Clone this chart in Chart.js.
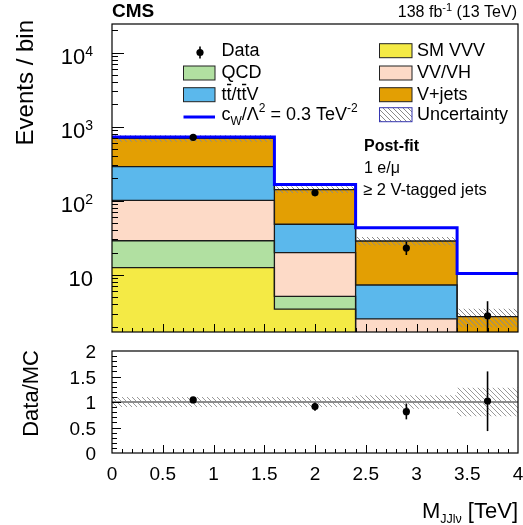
<!DOCTYPE html>
<html><head><meta charset="utf-8">
<script src="https://cdn.jsdelivr.net/npm/chart.js@4.4.1/dist/chart.umd.min.js"></script>
<style>
html,body{margin:0;padding:0;background:#fff;}
#wrap{position:relative;width:523px;height:525px;}
canvas{position:absolute;left:0;top:0;}
</style></head><body>
<div id="wrap"><canvas id="main" width="523" height="525"></canvas><canvas id="ratio" width="523" height="525"></canvas></div>
<script>
// ---------------- data ----------------
const binEdges   = [0, 1.6, 2.4, 3.4, 4.0];
const binCenters = [0.8, 2.0, 2.9, 3.7];
const smVVV  = [12.5, 3.45, 0.6, 0.3];
const qcd    = [16.3, 1.68, 0.2, 0.05];
const vvVH   = [72, 14.8, 1.74, 0.4];
const ttV    = [187, 28.2, 4.74, 0.6];
const vJets  = [407, 93, 21.3, 1.37];
const eftSignal = [724, 166, 43.2, 10.4];
const dataVals = [717, 128, 23.0, 2.8];
const dataLo   = [690, 117, 18.5, 1.2];
const dataHi   = [744, 139, 28.0, 4.4];
const relUnc   = [0.10, 0.10, 0.13, 0.28];
const ratioVals = [1.04, 0.91, 0.81, 1.02];
const ratioLo   = [1.00, 0.83, 0.66, 0.43];
const ratioHi   = [1.08, 0.99, 0.97, 1.60];
const yTickExponents = [1, 2, 3, 4];
const ratioTickLabels = ['0', '0.5', '1', '1.5', '2'];
const xTickLabels = ['0', '0.5', '1', '1.5', '2', '2.5', '3', '3.5', '4'];
const Y_MIN = 1.69, Y_MAX = 24300;
const R_MIN = 0, R_MAX = 2;
const X_MIN = 0, X_MAX = 4;

// ---------------- helpers ----------------
const FONT = '"Liberation Sans", Arial, Helvetica, sans-serif';
function histPoints(vals){ return binEdges.map((x,i)=>({x:x, y: vals[Math.min(i, vals.length-1)]})); }
function makeHatch(ctx, color, size){
  const c=document.createElement('canvas'); c.width=size; c.height=size;
  const g=c.getContext('2d'); g.strokeStyle=color; g.lineWidth=1;
  g.beginPath(); g.moveTo(0,0); g.lineTo(size,size);
  g.moveTo(-2,size-2); g.lineTo(2,size+2); g.moveTo(size-2,-2); g.lineTo(size+2,2); g.stroke();
  return ctx.createPattern(c,'repeat');
}
const stackColors = ['#f4ea45','#b1e0a1','#fddac7','#5bb8ec','#e39f03'];
const stackComps  = [smVVV, qcd, vvVH, ttV, vJets];

const mainCanvas = document.getElementById('main');
const ratioCanvas = document.getElementById('ratio');
const hatchMain = makeHatch(mainCanvas.getContext('2d'), '#8a8a8a', 5);
const hatchRatio = makeHatch(ratioCanvas.getContext('2d'), '#9a9a9a', 5);

// ---------------- main datasets ----------------
const mainDs = [];
let running = [0,0,0,0];
stackComps.forEach((arr,k)=>{
  running = running.map((v,i)=>v+arr[i]);
  mainDs.push({data: histPoints(running.slice()), stepped:true, fill: k===0?'start':'-1',
    backgroundColor: stackColors[k], borderColor:'#1a1a1a', borderWidth:1.3, pointRadius:0, order: 30-k});
});
const stackTotal = running.slice();
mainDs.push({data: histPoints(stackTotal.map((v,i)=>v*(1-relUnc[i]))), stepped:true, fill:false,
  borderWidth:0, borderColor:'rgba(0,0,0,0)', pointRadius:0, order:22});
mainDs.push({data: histPoints(stackTotal.map((v,i)=>v*(1+relUnc[i]))), stepped:true, fill:'-1',
  backgroundColor: hatchMain, borderWidth:0, borderColor:'rgba(0,0,0,0)', pointRadius:0, order:21});
mainDs.push({data: histPoints(eftSignal), stepped:true, fill:false, borderColor:'#0000ff', borderWidth:3, pointRadius:0, order:10});
binCenters.forEach((x,i)=>{
  mainDs.push({data:[{x:x,y:dataLo[i]},{x:x,y:dataHi[i]}], fill:false, borderColor:'#000', borderWidth:1.6, pointRadius:0, order:5});
});
mainDs.push({data: binCenters.map((x,i)=>({x:x,y:dataVals[i]})), showLine:false, pointRadius:3.6,
  pointBackgroundColor:'#000', pointBorderWidth:0, order:1});

// ---------------- ratio datasets ----------------
const ratioDs = [];
ratioDs.push({data: histPoints(relUnc.map(e=>1-e)), stepped:true, fill:false, borderWidth:0, borderColor:'rgba(0,0,0,0)', pointRadius:0, order:22});
ratioDs.push({data: histPoints(relUnc.map(e=>1+e)), stepped:true, fill:'-1', backgroundColor:hatchRatio, borderWidth:0, borderColor:'rgba(0,0,0,0)', pointRadius:0, order:21});
ratioDs.push({data:[{x:binEdges[0],y:1},{x:binEdges[binEdges.length-1],y:1}], fill:false, borderColor:'#8c8c8c', borderWidth:2, pointRadius:0, order:15});
binCenters.forEach((x,i)=>{
  ratioDs.push({data:[{x:x,y:ratioLo[i]},{x:x,y:ratioHi[i]}], fill:false, borderColor:'#000', borderWidth:1.6, pointRadius:0, order:5});
});
ratioDs.push({data: binCenters.map((x,i)=>({x:x,y:ratioVals[i]})), showLine:false, pointRadius:3.6,
  pointBackgroundColor:'#000', pointBorderWidth:0, order:1});

// ---------------- decorations ----------------
function drawFrame(ctx,a){ ctx.strokeStyle='#000'; ctx.lineWidth=1.2; ctx.strokeRect(a.left, a.top, a.right-a.left, a.bottom-a.top); }
function drawXTicks(ctx,a,xs){
  ctx.beginPath();
  for(let i=1;i<40;i++){ const x=Math.round(xs.getPixelForValue(i/10))+0.5; const len=i%5===0?8:4;
    ctx.moveTo(x,a.bottom); ctx.lineTo(x,a.bottom-len); }
  ctx.strokeStyle='#000'; ctx.lineWidth=1; ctx.stroke();
}
function drawPieces(ctx, x, y, pieces){ // pieces: [text, size, dy, bold]
  let cx=x;
  pieces.forEach(p=>{ ctx.font=(p[3]?'bold ':'')+p[1]+'px '+FONT; ctx.fillText(p[0], cx, y+p[2]); cx+=ctx.measureText(p[0]).width; });
  return cx;
}
function piecesWidth(ctx,pieces){ let w=0; pieces.forEach(p=>{ctx.font=(p[3]?'bold ':'')+p[1]+'px '+FONT; w+=ctx.measureText(p[0]).width;}); return w; }

const mainDecor = {id:'mainDecor', afterDraw(chart){
  const ctx=chart.ctx, a=chart.chartArea, xs=chart.scales.x, ys=chart.scales.y;
  ctx.save();
  // y ticks
  ctx.beginPath();
  for(let e=0;e<=4;e++) for(let m=1;m<=9;m++){ const v=m*Math.pow(10,e); if(v<Y_MIN||v>Y_MAX) continue;
    const y=Math.round(ys.getPixelForValue(v))+0.5; ctx.moveTo(a.left,y); ctx.lineTo(a.left+(m===1?12:6),y); }
  ctx.strokeStyle='#000'; ctx.lineWidth=1; ctx.stroke();
  drawXTicks(ctx,a,xs);
  drawFrame(ctx,a);
  ctx.fillStyle='#000'; ctx.textBaseline='alphabetic';
  // y tick labels
  yTickExponents.forEach(e=>{
    const y=ys.getPixelForValue(Math.pow(10,e));
    ctx.textAlign='right';
    if(e===1){ ctx.font='22px '+FONT; ctx.fillText('10', 93, y+11); }
    else { ctx.font='14px '+FONT; ctx.fillText(String(e), 93, y+3); const w=ctx.measureText(String(e)).width;
      ctx.font='22px '+FONT; ctx.fillText('10', 93-w, y+11); }
  });
  // y title
  ctx.save(); ctx.translate(33,20); ctx.rotate(-Math.PI/2); ctx.textAlign='right'; ctx.font='24px '+FONT; ctx.fillText('Events / bin',0,0); ctx.restore();
  ctx.textAlign='left';
  // CMS + lumi
  ctx.font='bold 19px '+FONT; ctx.fillText('CMS', 112, 17);
  const lumi=[['138 fb',16,0],['-1',11,-6],[' (13 TeV)',16,0]];
  drawPieces(ctx, 517-piecesWidth(ctx,lumi), 17, lumi);
  // legend
  const rows=[56,78.3,100,120];
  const lx0=183.5, lx1=215, rx0=379.5, rx1=412, ltx=221.5, rtx=417;
  function box(x0,x1,base,fill,stroke){ ctx.fillStyle=fill; ctx.fillRect(x0,base-12.3,x1-x0,14); ctx.strokeStyle=stroke||'#222'; ctx.lineWidth=1; ctx.strokeRect(x0,base-12.3,x1-x0,14); ctx.fillStyle='#000'; }
  // Data marker
  ctx.beginPath(); ctx.moveTo(200,46.5); ctx.lineTo(200,58.5); ctx.strokeStyle='#000'; ctx.lineWidth=1.6; ctx.stroke();
  ctx.beginPath(); ctx.arc(200,52.5,3.6,0,2*Math.PI); ctx.fillStyle='#000'; ctx.fill();
  ctx.font='18px '+FONT; ctx.fillText('Data', ltx, rows[0]);
  box(lx0,lx1,rows[1],stackColors[1]); ctx.font='18px '+FONT; ctx.fillText('QCD', ltx, rows[1]);
  box(lx0,lx1,rows[2],stackColors[3]);
  ctx.font='18px '+FONT;
  { const wt=ctx.measureText('t').width; let x=ltx; const b=rows[2];
    ctx.fillText('t',x,b); x+=wt; ctx.fillText('t',x,b);
    ctx.beginPath(); ctx.moveTo(x+0.5,b-15.5); ctx.lineTo(x+wt-0.3,b-15.5); x+=wt;
    ctx.fillText('/',x,b); x+=ctx.measureText('/').width;
    ctx.fillText('t',x,b); x+=wt; ctx.fillText('t',x,b);
    ctx.moveTo(x+0.5,b-15.5); ctx.lineTo(x+wt-0.3,b-15.5); x+=wt;
    ctx.strokeStyle='#000'; ctx.lineWidth=1.3; ctx.stroke();
    ctx.fillText('V',x,b); }
  ctx.beginPath(); ctx.moveTo(lx0,rows[3]-3); ctx.lineTo(lx1,rows[3]-3); ctx.strokeStyle='#0000ff'; ctx.lineWidth=3; ctx.stroke();
  drawPieces(ctx, ltx, rows[3], [['c',18,0],['W',12,5],['/\u039B',18,0],['2',12,-8],[' = 0.3 TeV',18,0],['-2',12,-8]]);
  box(rx0,rx1,rows[0],stackColors[0]); ctx.font='18px '+FONT; ctx.fillText('SM VVV', rtx, rows[0]);
  box(rx0,rx1,rows[1],stackColors[2]); ctx.font='18px '+FONT; ctx.fillText('VV/VH', rtx, rows[1]);
  box(rx0,rx1,rows[2],stackColors[4]); ctx.font='18px '+FONT; ctx.fillText('V+jets', rtx, rows[2]);
  ctx.fillStyle='#fff'; ctx.fillRect(rx0,rows[3]-12.3,rx1-rx0,14);
  box(rx0,rx1,rows[3],hatchMain,'#3636b0'); ctx.font='18px '+FONT; ctx.fillText('Uncertainty', rtx, rows[3]);
  // annotation
  ctx.font='bold 16px '+FONT; ctx.fillText('Post-fit', 364, 151);
  ctx.font='16px '+FONT; ctx.fillText('1 e/\u03BC', 364, 172.5);
  ctx.font='16.5px '+FONT; ctx.fillText('\u2265 2 V-tagged jets', 363, 194.5);
  ctx.restore();
}};

const ratioDecor = {id:'ratioDecor', afterDraw(chart){
  const ctx=chart.ctx, a=chart.chartArea, xs=chart.scales.x, ys=chart.scales.y;
  ctx.save();
  ctx.beginPath();
  for(let i=1;i<20;i++){ const y=Math.round(ys.getPixelForValue(i/10))+0.5; const len=i%5===0?9:5;
    ctx.moveTo(a.left,y); ctx.lineTo(a.left+len,y); }
  ctx.strokeStyle='#000'; ctx.lineWidth=1; ctx.stroke();
  drawXTicks(ctx,a,xs);
  drawFrame(ctx,a);
  ctx.fillStyle='#000'; ctx.textBaseline='alphabetic';
  ctx.font='19px '+FONT; ctx.textAlign='right';
  ratioTickLabels.forEach(l=>{ const y=ys.getPixelForValue(parseFloat(l)); ctx.fillText(l, 96, y+7); });
  ctx.textAlign='center';
  xTickLabels.forEach(l=>{ const x=xs.getPixelForValue(parseFloat(l)); ctx.fillText(l, x, 480); });
  // y title
  ctx.save(); ctx.translate(38,350); ctx.rotate(-Math.PI/2); ctx.textAlign='right'; ctx.font='22px '+FONT; ctx.fillText('Data/MC',0,0); ctx.restore();
  // x title
  ctx.textAlign='left';
  const xt=[['M',22,0],['JJl\u03BD',12.5,5],[' [TeV]',22,0]];
  drawPieces(ctx, 518-piecesWidth(ctx,xt), 517.5, xt);
  ctx.restore();
}};

function baseOptions(padTop, padBottom, yScale){
  return {responsive:false, animation:false, devicePixelRatio:1, events:[],
    layout:{padding:{left:112, right:5, top:padTop, bottom:padBottom}},
    scales:{x:{type:'linear', min:X_MIN, max:X_MAX, display:false}, y:yScale},
    plugins:{legend:{display:false}, tooltip:{enabled:false}, filler:{propagate:false, drawTime:'beforeDatasetsDraw'}},
    elements:{line:{tension:0}, point:{radius:0}}};
}
new Chart(mainCanvas, {type:'line', data:{datasets:mainDs},
  options: baseOptions(24, 193, {type:'logarithmic', min:Y_MIN, max:Y_MAX, display:false}), plugins:[mainDecor]});
new Chart(ratioCanvas, {type:'line', data:{datasets:ratioDs},
  options: baseOptions(351, 72, {type:'linear', min:R_MIN, max:R_MAX, display:false}), plugins:[ratioDecor]});
</script></body></html>
